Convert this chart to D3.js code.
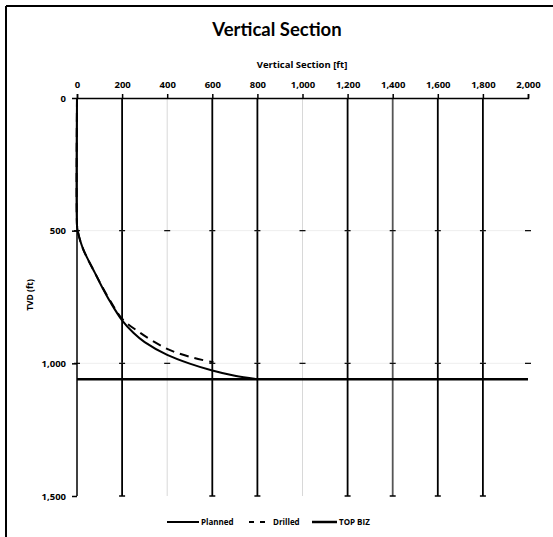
<!DOCTYPE html>
<html lang="en">
  <head>
    <meta charset="UTF-8" />
    <title>Vertical Section</title>
    <script src="https://d3js.org/d3.v7.min.js"></script>
    <style>
      body {
        margin: 0;
        background: #fff;
      }
      text {
        font-family: "Open Sans", Lato, sans-serif;
        font-weight: bold;
        fill: #000;
      }
      .axis text {
        font-size: 9.5px;
        font-family: "Open Sans", sans-serif;
      }
      .axis path,
      .axis line {
        stroke: #000;
        stroke-width: 1.5px;
      }
    </style>
  </head>
  <body>
    <svg width="553" height="537"></svg>
    <script>
      // tick labels
      const xTicks = [0, 200, 400, 600, 800, 1000, 1200, 1400, 1600, 1800, 2000];
      const yTicks = [0, 500, 1000, 1500];

      // planned well path [vertical section, tvd]
      const plannedVS = [0, 0, 3, 15, 30, 49, 80, 111, 150, 200, 250, 300, 400, 500, 600, 700, 800];
      const plannedTVD = [0, 480, 500, 540, 575, 609, 660, 712, 772, 838, 885, 920, 968, 1001, 1027, 1047, 1060];

      // drilled well path
      const drilledVS = [0, 0, 3, 15, 30, 49, 80, 111, 150, 200, 280, 360, 426, 520, 605];
      const drilledTVD = [0, 480, 500, 540, 575, 609, 660, 710, 768, 832, 885, 928, 955, 980, 996];

      // top of target formation
      const topBizVS = [0, 2000];
      const topBizTVD = [1060, 1060];

      const legendNames = ["Planned", "Drilled", "TOP BIZ"];

      const svg = d3.select("svg");
      const margin = { top: 98, left: 77 };
      const width = 451,
        height = 398;

      const x = d3.scaleLinear().domain([0, 2000]).range([0, width]);
      const y = d3.scaleLinear().domain([0, 1500]).range([0, height]);

      // frame (only top and left edges survive in the scan)
      svg.append("line").attr("x1", 6).attr("y1", 6).attr("x2", 553).attr("y2", 6)
        .attr("stroke", "#000").attr("stroke-width", 2);
      svg.append("line").attr("x1", 6).attr("y1", 6).attr("x2", 6).attr("y2", 537)
        .attr("stroke", "#000").attr("stroke-width", 2);

      svg.append("text")
        .attr("x", 277).attr("y", 36)
        .attr("text-anchor", "middle")
        .style("font-family", "Lato, sans-serif")
        .style("font-size", "18.5px")
        .text("Vertical Section");

      const g = svg.append("g")
        .attr("transform", `translate(${margin.left},${margin.top})`);

      // vertical grid lines, some faded in the original
      const faint = new Set([400, 1000]);
      g.append("g")
        .selectAll("line")
        .data(xTicks.filter((d) => d > 0 && d < 2000))
        .enter()
        .append("line")
        .attr("x1", (d) => x(d)).attr("x2", (d) => x(d))
        .attr("y1", 0).attr("y2", height)
        .attr("stroke", (d) => (faint.has(d) ? "#d8d8d8" : d === 1400 ? "#555" : "#000"))
        .attr("stroke-width", (d) => (faint.has(d) ? 1 : 1.8));

      // horizontal grid, nearly invisible
      g.append("g")
        .selectAll("line")
        .data(yTicks.filter((d) => d > 0 && d < 1500))
        .enter()
        .append("line")
        .attr("x1", 0).attr("x2", width)
        .attr("y1", (d) => y(d)).attr("y2", (d) => y(d))
        .attr("stroke", "#eee");

      // small crosses where the grid meets
      const cross = [];
      yTicks.filter((d) => d > 0 && d < 1500).forEach((t) =>
        xTicks.forEach((v) => cross.push([v, t]))
      );
      g.append("g")
        .selectAll("line")
        .data(cross)
        .enter()
        .append("line")
        .attr("x1", (d) => x(d[0]) - 3).attr("x2", (d) => x(d[0]) + 3)
        .attr("y1", (d) => y(d[1])).attr("y2", (d) => y(d[1]))
        .attr("stroke", "#000").attr("stroke-width", 1.2);

      // bottom tick feet
      g.append("g")
        .selectAll("line")
        .data(xTicks.filter((d) => d > 0 && d < 2000 && !faint.has(d)))
        .enter()
        .append("line")
        .attr("x1", (d) => x(d) - 3).attr("x2", (d) => x(d) + 3)
        .attr("y1", height).attr("y2", height)
        .attr("stroke", "#000").attr("stroke-width", 1.5);

      g.append("g")
        .attr("class", "axis")
        .call(d3.axisTop(x).tickValues(xTicks).tickSize(4).tickPadding(6).tickFormat(d3.format(",")));

      const yAxis = g.append("g")
        .attr("class", "axis")
        .call(d3.axisLeft(y).tickValues(yTicks).tickSize(5).tickPadding(6).tickFormat(d3.format(",")));
      yAxis.select(".domain").attr("d", `M0,0V${height}`);

      svg.append("text")
        .attr("x", 302).attr("y", 68)
        .attr("text-anchor", "middle")
        .style("font-size", "9.5px")
        .text("Vertical Section [ft]");

      svg.append("text")
        .attr("transform", "translate(33,295) rotate(-90)")
        .attr("text-anchor", "middle")
        .style("font-size", "8.5px")
        .text("TVD (ft)");

      const line = d3.line()
        .x((d) => x(d[0]))
        .y((d) => y(d[1]))
        .curve(d3.curveCatmullRom);

      const planned = d3.zip(plannedVS, plannedTVD);
      const drilled = d3.zip(drilledVS, drilledTVD);
      const topBiz = d3.zip(topBizVS, topBizTVD);

      g.append("path")
        .datum(topBiz)
        .attr("d", d3.line().x((d) => x(d[0])).y((d) => y(d[1])))
        .attr("fill", "none").attr("stroke", "#000").attr("stroke-width", 2.5);

      g.append("path")
        .datum(drilled)
        .attr("d", line)
        .attr("fill", "none").attr("stroke", "#000").attr("stroke-width", 2)
        .attr("stroke-dasharray", "9,6");

      g.append("path")
        .datum(planned)
        .attr("d", line)
        .attr("fill", "none").attr("stroke", "#000").attr("stroke-width", 2);

      // legend
      const legendX = [167, 249, 312];
      const legendLen = [32, 16, 25];
      const legend = svg.append("g").attr("transform", "translate(0,522)");
      legendNames.forEach((name, i) => {
        legend.append("line")
          .attr("x1", legendX[i]).attr("x2", legendX[i] + legendLen[i])
          .attr("y1", 0).attr("y2", 0)
          .attr("stroke", "#000")
          .attr("stroke-width", i === 2 ? 2.5 : 2)
          .attr("stroke-dasharray", i === 1 ? "5,6" : null);
        legend.append("text")
          .attr("x", legendX[i] + legendLen[i] + (i === 1 ? 8 : 2))
          .attr("y", 3)
          .style("font-size", "8px")
          .text(name);
      });
    </script>
  </body>
</html>
